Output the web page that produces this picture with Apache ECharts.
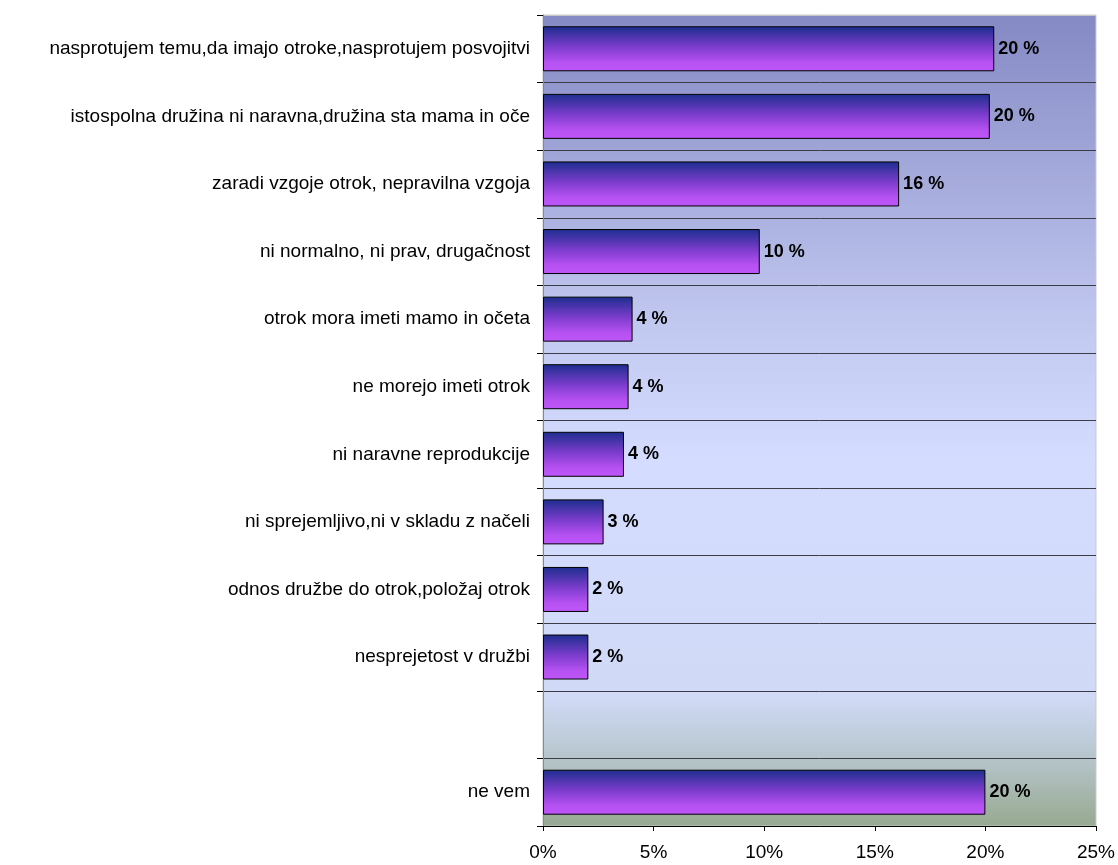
<!DOCTYPE html>
<html>
<head>
<meta charset="utf-8">
<title>chart</title>
<script src="https://cdn.jsdelivr.net/npm/echarts@6/dist/echarts.min.js"></script>
<style>
  html, body { margin: 0; padding: 0; background: #fff; }
  #main { width: 1118px; height: 865px; }
</style>
</head>
<body>
<div id="main"></div>
<script>
// categories top to bottom (one empty row before "ne vem")
var categories = [
  'nasprotujem temu,da imajo otroke,nasprotujem posvojitvi',
  'istospolna družina ni naravna,družina sta mama in oče',
  'zaradi vzgoje otrok, nepravilna vzgoja',
  'ni normalno, ni prav, drugačnost',
  'otrok mora imeti mamo in očeta',
  'ne morejo imeti otrok',
  'ni naravne reprodukcije',
  'ni sprejemljivo,ni v skladu z načeli',
  'odnos družbe do otrok,položaj otrok',
  'nesprejetost v družbi',
  '',
  'ne vem'
];
// percent values
var values = [20.4, 20.2, 16.1, 9.8, 4.05, 3.87, 3.66, 2.74, 2.05, 2.05, null, 20.0];
var xTicks = [0, 5, 10, 15, 20, 25];

var chart = echarts.init(document.getElementById('main'));

// split lines between rows: the top one is the light plot border
var splitColors = categories.map(function () { return '#3c3c46'; });
splitColors.unshift('#c8c8c8');

var option = {
  animation: false,
  grid: {
    left: 543,
    right: 22,
    top: 15,
    bottom: 39,
    show: true,
    borderColor: '#c8c8c8',
    borderWidth: 1,
    backgroundColor: new echarts.graphic.LinearGradient(0, 0, 0, 1, [
      { offset: 0, color: '#8589c4' },
      { offset: 0.4, color: '#c4cbf2' },
      { offset: 0.55, color: '#d4dcff' },
      { offset: 0.84, color: '#d0daf6' },
      { offset: 0.9, color: '#bccad6' },
      { offset: 1, color: '#97a990' }
    ])
  },
  xAxis: {
    type: 'value',
    min: xTicks[0],
    max: xTicks[xTicks.length - 1],
    interval: 5,
    axisLine: { show: true, lineStyle: { color: '#000', width: 1 } },
    axisTick: { show: true, length: 5, lineStyle: { color: '#000' } },
    splitLine: { show: false },
    axisLabel: {
      formatter: '{value}%',
      color: '#000',
      fontSize: 19,
      fontFamily: 'Liberation Sans, Arial, sans-serif',
      margin: 17
    }
  },
  yAxis: {
    type: 'category',
    inverse: true,
    data: categories,
    axisLine: { show: true, lineStyle: { color: '#888', width: 1 } },
    axisTick: { show: true, length: 6, lineStyle: { color: '#000' } },
    splitLine: { show: true, lineStyle: { color: splitColors, width: 1 } },
    axisLabel: {
      color: '#000',
      fontSize: 19,
      fontFamily: 'Liberation Sans, Arial, sans-serif',
      margin: 13
    }
  },
  series: [{
    type: 'bar',
    data: values,
    barWidth: 45,
    itemStyle: {
      borderColor: '#000',
      borderWidth: 1,
      color: new echarts.graphic.LinearGradient(0, 0, 0, 1, [
        { offset: 0, color: '#1c2e8e' },
        { offset: 0.45, color: '#7a3ccb' },
        { offset: 0.8, color: '#b651f2' },
        { offset: 1, color: '#be56f8' }
      ])
    },
    label: {
      show: true,
      position: 'right',
      distance: 4,
      color: '#000',
      fontWeight: 'bold',
      fontSize: 18,
      fontFamily: 'Liberation Sans, Arial, sans-serif',
      formatter: function (p) { return Math.round(p.value) + ' %'; }
    }
  }]
};

chart.setOption(option);
</script>
</body>
</html>
